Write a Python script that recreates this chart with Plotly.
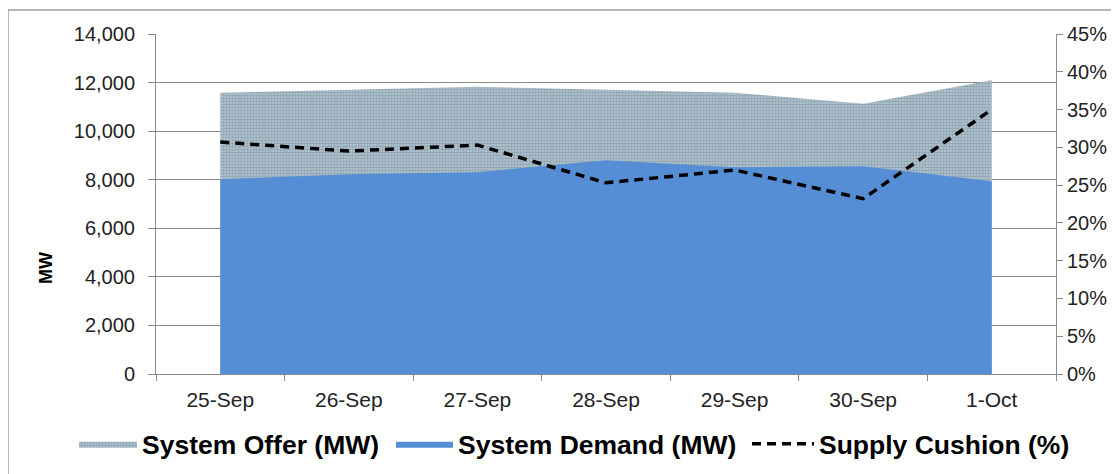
import plotly.graph_objects as go

categories = ["25-Sep", "26-Sep", "27-Sep", "28-Sep", "29-Sep", "30-Sep", "1-Oct"]
system_offer = [11580, 11700, 11830, 11700, 11580, 11130, 12100]
system_demand = [8020, 8230, 8310, 8800, 8510, 8550, 7940]
supply_cushion = [0.307, 0.295, 0.303, 0.253, 0.270, 0.232, 0.350]

# the page body adds an 8px margin; figure is sized/positioned to compensate
OFF = 8
W, H = 1119 - OFF, 474 - OFF
L, T = 156 - OFF, 34 - OFF
pw, ph = 900, 340
R, B = W - L - pw, H - T - ph


def px(xp):
    return (xp - OFF - L) / pw


def py(yp):
    return (T + ph - (yp - OFF)) / ph


FONT = "Liberation Sans, Arial, sans-serif"
GRID = "#8a8a8a"
LEG_FONT = dict(family=FONT, size=26.5, color="#000000", weight="bold")

fig = go.Figure()
fig.add_trace(go.Scatter(
    x=categories, y=system_offer, name="System Offer (MW)", legend="legend",
    mode="lines", line=dict(width=0, color="#9fb2be"),
    fill="tozeroy", fillcolor="#b4c6d0",
    fillpattern=dict(shape=".", bgcolor="#b8cad4", fgcolor="#647d8d",
                     size=3, solidity=0.6),
    hoverinfo="skip",
))
fig.add_trace(go.Scatter(
    x=categories, y=system_demand, name="System Demand (MW)", legend="legend2",
    mode="lines", line=dict(width=0, color="#558ed5"),
    fill="tozeroy", fillcolor="#558ed5",
))
fig.add_trace(go.Scatter(
    x=categories, y=supply_cushion, name="Supply Cushion (%)", yaxis="y2",
    legend="legend3",
    mode="lines", line=dict(color="#000000", width=3.5, dash="9px,6px"),
))


def leg(xpix, iw):
    return dict(orientation="h", x=px(xpix - 6), xanchor="left",
                y=py(444), yanchor="middle", font=LEG_FONT,
                itemwidth=iw, bgcolor="rgba(0,0,0,0)")


fig.update_layout(
    width=W, height=H,
    margin=dict(l=L, r=R, t=T, b=B, autoexpand=False),
    paper_bgcolor="white", plot_bgcolor="white",
    font=dict(family=FONT, size=20, color="#222222"),
    showlegend=True,
    legend=leg(80, 58),
    legend2=leg(397, 57),
    legend3=leg(753, 62),
    xaxis=dict(type="category", range=[-0.5, 6.5], showgrid=False,
               showline=True, linecolor=GRID, linewidth=1,
               ticks="outside", tickson="boundaries", ticklen=6, tickcolor=GRID,
               ticklabelstandoff=7,
               tickfont=dict(size=21, color="#222222"), fixedrange=True),
    yaxis=dict(range=[0, 14000], dtick=2000, tickformat=",d",
               showgrid=True, gridcolor=GRID, gridwidth=1,
               showline=True, linecolor=GRID, linewidth=1,
               ticks="outside", ticklen=7, tickcolor=GRID,
               ticklabelstandoff=9,
               tickfont=dict(size=20, color="#222222"),
               zeroline=False, automargin=False),
    yaxis2=dict(range=[0, 0.45], dtick=0.05, tickformat=".0%",
                overlaying="y", side="right", showgrid=False,
                showline=True, linecolor=GRID, linewidth=1,
                ticks="outside", ticklen=6, tickcolor=GRID,
                tickfont=dict(size=20, color="#222222"), zeroline=False,
                automargin=False),
    annotations=[dict(text="<b>MW</b>", xref="paper", yref="paper",
                      x=px(46), y=py(268),
                      xanchor="center", yanchor="middle", textangle=-90,
                      showarrow=False, font=dict(family=FONT, size=18, color="#000000"))],
    shapes=[dict(type="rect", xref="paper", yref="paper",
                 x0=px(8), x1=px(1135),
                 y0=py(490), y1=py(10),
                 line=dict(color="#a0a0a0", width=1.5), fillcolor="rgba(0,0,0,0)",
                 layer="below")],
)

fig.write_html("out.html")
